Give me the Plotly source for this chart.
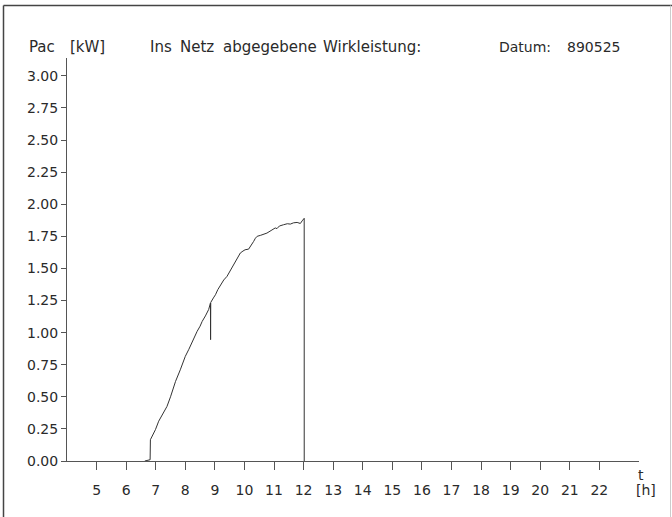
import plotly.graph_objects as go

# ---- data ----
hours = [6.63, 6.81, 6.82, 6.90, 6.99, 7.10, 7.27, 7.38, 7.50, 7.60, 7.67, 7.83, 7.92,
         8.00, 8.12, 8.23, 8.32, 8.40, 8.50, 8.57, 8.68, 8.79, 8.85, 8.855, 8.86, 8.95,
         9.02, 9.10, 9.19, 9.30, 9.41, 9.52, 9.64, 9.75, 9.86, 9.95, 10.02, 10.14, 10.22,
         10.31, 10.37, 10.43, 10.55, 10.66, 10.76, 10.90, 11.04, 11.10, 11.18, 11.32,
         11.45, 11.55, 11.66, 11.78, 11.89, 11.95, 12.02, 12.021]
pac_kw = [0.0, 0.01, 0.166, 0.20, 0.244, 0.31, 0.386, 0.425, 0.50, 0.57, 0.62, 0.71, 0.77,
          0.815, 0.87, 0.93, 0.975, 1.01, 1.05, 1.087, 1.13, 1.18, 1.23, 0.945, 1.235, 1.27,
          1.295, 1.335, 1.373, 1.41, 1.438, 1.485, 1.53, 1.575, 1.62, 1.635, 1.645, 1.65, 1.675,
          1.71, 1.735, 1.75, 1.758, 1.765, 1.775, 1.795, 1.815, 1.81, 1.83, 1.84,
          1.848, 1.845, 1.855, 1.858, 1.85, 1.87, 1.89, 0.0]

x_tick_vals = list(range(5, 23))
x_tick_text = [str(h) for h in x_tick_vals]
y_tick_vals = [0.0, 0.25, 0.5, 0.75, 1.0, 1.25, 1.5, 1.75, 2.0, 2.25, 2.5, 2.75, 3.0]

FONT = "DejaVu Sans"
INK = "#2a2a2a"
AX = "#555555"

W, H = 672, 517
ML, MR, MT, MB = 67, 33, 58, 56
PW, PH = W - ML - MR, H - MT - MB


def px(xpix):
    return (xpix - ML) / PW


def py(ypix):
    return (H - MB - ypix) / PH


fig = go.Figure()
fig.add_trace(go.Scatter(x=hours, y=pac_kw, mode="lines",
                         line=dict(color="#333333", width=1), showlegend=False,
                         hoverinfo="skip"))

fig.update_layout(
    width=W, height=H,
    margin=dict(l=ML, r=MR, t=MT, b=MB, pad=0),
    paper_bgcolor="white", plot_bgcolor="white",
    font=dict(family=FONT, size=14, color=INK),
    showlegend=False,
)

fig.update_xaxes(range=[4, 23.34], showgrid=False, zeroline=False,
                 showline=True, linecolor=AX, linewidth=1,
                 ticks="outside", ticklen=8, tickwidth=1, tickcolor=AX,
                 tickvals=x_tick_vals, ticktext=x_tick_text,
                 ticklabelstandoff=8,
                 tickfont=dict(family=FONT, size=14, color=INK))
fig.update_yaxes(range=[0, PH / 128.4], showgrid=False, zeroline=False,
                 showline=True, linecolor=AX, linewidth=1,
                 ticks="outside", ticklen=5, tickwidth=1, tickcolor=AX,
                 tickvals=y_tick_vals, tickformat=".2f",
                 tickfont=dict(family=FONT, size=14, color=INK))

# header words placed individually (the original plotter font is widely spaced)
header = [("Pac", 27, 15), ("[kW]", 68, 15), ("Ins", 148, 15), ("Netz", 178, 15),
          ("abgegebene", 221, 15), ("Wirkleistung:", 321, 15),
          ("Datum:", 497, 14), ("890525", 565, 14)]
for txt, xl, fs in header:
    fig.add_annotation(text=txt, x=px(xl), y=py(47), xref="paper", yref="paper",
                       xanchor="left", yanchor="middle", showarrow=False,
                       font=dict(family=FONT, size=fs, color=INK))

fig.add_annotation(text="t", x=px(641), y=py(475), xref="paper", yref="paper",
                   xanchor="center", yanchor="middle", showarrow=False,
                   font=dict(family=FONT, size=14, color=INK))
fig.add_annotation(text="[h]", x=px(646), y=py(490), xref="paper", yref="paper",
                   xanchor="center", yanchor="middle", showarrow=False,
                   font=dict(family=FONT, size=14, color=INK))

# outer frame of the scanned page
fig.add_shape(type="line", xref="paper", yref="paper",
              x0=px(3.5), x1=px(672), y0=py(5.5), y1=py(5.5),
              line=dict(color="#444444", width=1.5))
fig.add_shape(type="line", xref="paper", yref="paper",
              x0=px(3.5), x1=px(3.5), y0=py(5.5), y1=py(520),
              line=dict(color="#444444", width=1.5))
fig.add_shape(type="line", xref="paper", yref="paper",
              x0=px(670.5), x1=px(670.5), y0=py(5.5), y1=py(520),
              line=dict(color="#cccccc", width=1))

fig.write_html(
    "out.html",
    config={"displayModeBar": False},
    post_script="document.body.style.margin='0';document.body.style.overflow='hidden';",
)
